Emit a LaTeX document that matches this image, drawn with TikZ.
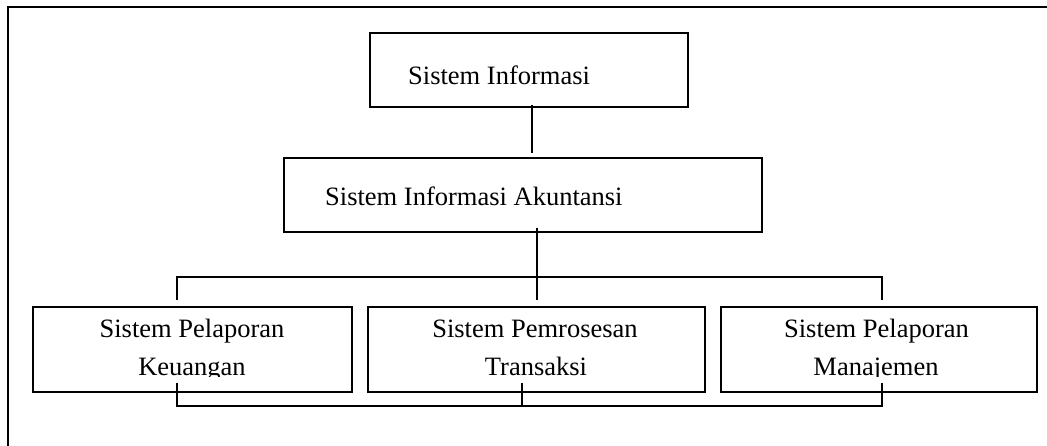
\documentclass[tikz,border=0pt]{standalone}
\usepackage{fontspec}
\setmainfont{Liberation Serif}
\begin{document}
\begin{tikzpicture}[x=1pt,y=-1pt,
  box/.style={draw, line width=1.4pt, inner sep=0pt, rectangle},
  lbl/.style={inner sep=0pt, anchor=base, font=\fontsize{26.5}{30}\selectfont},
  conn/.style={line width=1.2pt}]
\useasboundingbox (0,0) rectangle (1047,445);
% outer frame
\draw[line width=2pt] (8,446) -- (8,7) -- (1048,7);
% boxes
\node[box, minimum width=318pt, minimum height=74pt] (si) at (529,70) {};
\node[box, minimum width=478pt, minimum height=74pt] (sia) at (523,195) {};
\node[box, minimum width=319pt, minimum height=85pt] (b1) at (192.5,349.5) {};
\node[box, minimum width=337pt, minimum height=85pt] (b2) at (536.5,349.5) {};
\node[box, minimum width=316pt, minimum height=85pt] (b3) at (879,349.5) {};
% texts
\node[lbl, anchor=base west] (tsi) at (408,84) {Sistem Informasi};
\node[lbl, anchor=base west] (tsia) at (325,205) {Sistem Informasi Akuntansi};
\node[lbl] (t1a) at (192,337) {Sistem Pelaporan};
\node[lbl] (t2a) at (535,337) {Sistem Pemrosesan};
\node[lbl] (t3a) at (876.5,337) {Sistem Pelaporan};
\begin{scope}
\clip (0,0) rectangle (1047,376);
\node[lbl] (t1b) at (192,375) {Keuangan};
\node[lbl] (t2b) at (536,375) {Transaksi};
\node[lbl] (t3b) at (876,375) {Manajemen};
\end{scope}
% connector coordinates
\coordinate (c1a) at ([xshift=3pt, yshift=3pt]si.south);
\coordinate (c1b) at ([xshift=3pt, yshift=4pt]si.south |- sia.north);
\coordinate (c2a) at ([yshift=5pt]sia.south -| 537,0);
\coordinate (h1) at (177,277);
\coordinate (h2) at (882,277);
\coordinate (d1) at (177,300);
\coordinate (d2) at (537,300);
\coordinate (d3) at (882,300);
\coordinate (u1) at (177,383);
\coordinate (u2) at (522,383);
\coordinate (u3) at (882,383);
\coordinate (g1) at (177,406);
\coordinate (g2) at (522,406);
\coordinate (g3) at (882,406);
% connectors
\draw[conn] (c1a) -- (c1b);
\draw[conn] (c2a) -- (d2);
\draw[conn] (d1) -- (h1) -- (h2) -- (d3);
\draw[conn] (u1) -- (g1) -- (g3) -- (u3);
\draw[conn] (u2) -- (g2);
\end{tikzpicture}
\end{document}
